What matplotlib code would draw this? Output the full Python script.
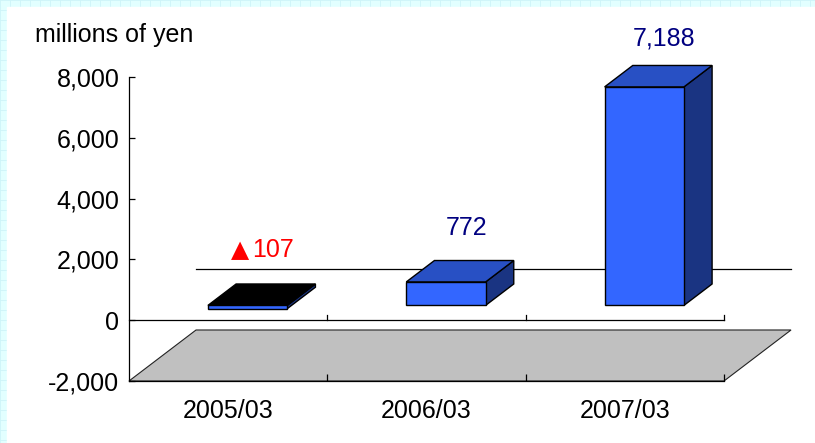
import matplotlib.pyplot as plt
from matplotlib.patches import Polygon, Rectangle

# data
categories = ['2005/03', '2006/03', '2007/03']
values = [-107, 772, 7188]
label_colors = ['#FF0000', '#000080', '#000080']
yticks = [-2000, 0, 2000, 4000, 6000, 8000]

# fake 3d layout (depth offset in data units)
DX, DY = 0.338, 1678
Z1, Z2 = 0.29, 0.71
HALF_W = 0.2
label_y = [2300, 3030, 9280]

FRONT = '#3366FF'
TOP = '#2850C4'
SIDE = '#1A3482'

plt.rcParams['font.family'] = ['Liberation Sans', 'DejaVu Sans']
plt.rcParams['font.size'] = 18

W, H = 815, 443
fig = plt.figure(figsize=(W / 100, H / 100), dpi=100)

# cyan grid border + white panel
bg = fig.add_axes([0, 0, 1, 1], zorder=-1)
bg.set_xlim(0, W)
bg.set_ylim(H, 0)
bg.axis('off')
bg.add_patch(Rectangle((0, 0), W, H, color='#E2FFFF', zorder=0))
for g in range(0, W, 10):
    bg.axvline(g, color='#CDF4F8', lw=0.6, zorder=1)
for g in range(0, H, 10):
    bg.axhline(g, color='#CDF4F8', lw=0.6, zorder=1)
bg.add_patch(Rectangle((7, 7), W, H, color='white', zorder=2))

ax = fig.add_axes([129 / W, (H - 381) / H, (724 - 129) / W, (381 - 77) / H])
ax.set_facecolor('none')
ax.set_xlim(-0.5, 2.5)
ax.set_ylim(-2000, 8000)


def proj(x, y, z):
    return (x + z * DX, y + z * DY)


# floor at the -2,000 level
floor = [proj(-0.5, -2000, 0), proj(2.5, -2000, 0), proj(2.5, -2000, 1), proj(-0.5, -2000, 1)]
ax.add_patch(Polygon(floor, closed=True, facecolor='#C0C0C0', edgecolor='#222222', lw=0.8,
                     clip_on=False, zorder=1))

# zero line on the back wall
bx = [proj(-0.5, 0, 1)[0], proj(2.5, 0, 1)[0]]
ax.plot(bx, [DY, DY], color='black', lw=0.9, clip_on=False, zorder=2)

# zero line at the front with category ticks
ax.plot([-0.5, 2.5], [0, 0], color='black', lw=0.9, clip_on=False, zorder=2)
for b in [0.5, 1.5, 2.5]:
    ax.plot([b, b], [0, 170], color='black', lw=0.9, clip_on=False, zorder=2)

for i, v in enumerate(values):
    lo, hi = min(v, 0), max(v, 0)
    x0, x1 = i - HALF_W, i + HALF_W
    front = [proj(x0, lo, Z1), proj(x1, lo, Z1), proj(x1, hi, Z1), proj(x0, hi, Z1)]
    top = [proj(x0, hi, Z1), proj(x1, hi, Z1), proj(x1, hi, Z2), proj(x0, hi, Z2)]
    side = [proj(x1, lo, Z1), proj(x1, lo, Z2), proj(x1, hi, Z2), proj(x1, hi, Z1)]
    top_color = 'black' if v < 0 else TOP
    for pts, fc in [(side, SIDE), (top, top_color), (front, FRONT)]:
        ax.add_patch(Polygon(pts, closed=True, facecolor=fc, edgecolor='black', lw=1.0,
                             joinstyle='miter', clip_on=False, zorder=3))
    if v < 0:
        # negative numbers are written with a triangle in front
        ax.annotate('\u25b2', (i + 0.2, label_y[i]), xytext=(-13.5, 0), textcoords='offset points',
                    ha='right', va='center', color=label_colors[i], family='DejaVu Sans',
                    fontsize=17, zorder=4)
        ax.annotate(f'{abs(v):,}', (i + 0.2, label_y[i]), xytext=(-11, 0), textcoords='offset points',
                    ha='left', va='center', color=label_colors[i], zorder=4)
    else:
        ax.text(i + 0.2, label_y[i], f'{v:,}', color=label_colors[i],
                ha='center', va='center', zorder=4)

# axes styling
for s in ['top', 'right']:
    ax.spines[s].set_visible(False)
ax.spines['left'].set_linewidth(0.9)
ax.spines['bottom'].set_linewidth(0.9)
ax.set_yticks(yticks)
ax.set_yticklabels([f'{t:,}' for t in yticks])
ax.tick_params(axis='y', direction='in', length=4, width=0.9, pad=7)
ax.set_xticks([0.5, 1.5, 2.5])
ax.set_xticklabels([])
ax.tick_params(axis='x', which='major', direction='in', length=5, width=0.9)
ax.set_xticks([0, 1, 2], minor=True)
ax.set_xticklabels(categories, minor=True)
ax.tick_params(axis='x', which='minor', length=0, pad=13)

fig.text(35 / W, 1 - 35 / H, 'millions of yen', ha='left', va='center')

fig.savefig('out.png', dpi=100)
